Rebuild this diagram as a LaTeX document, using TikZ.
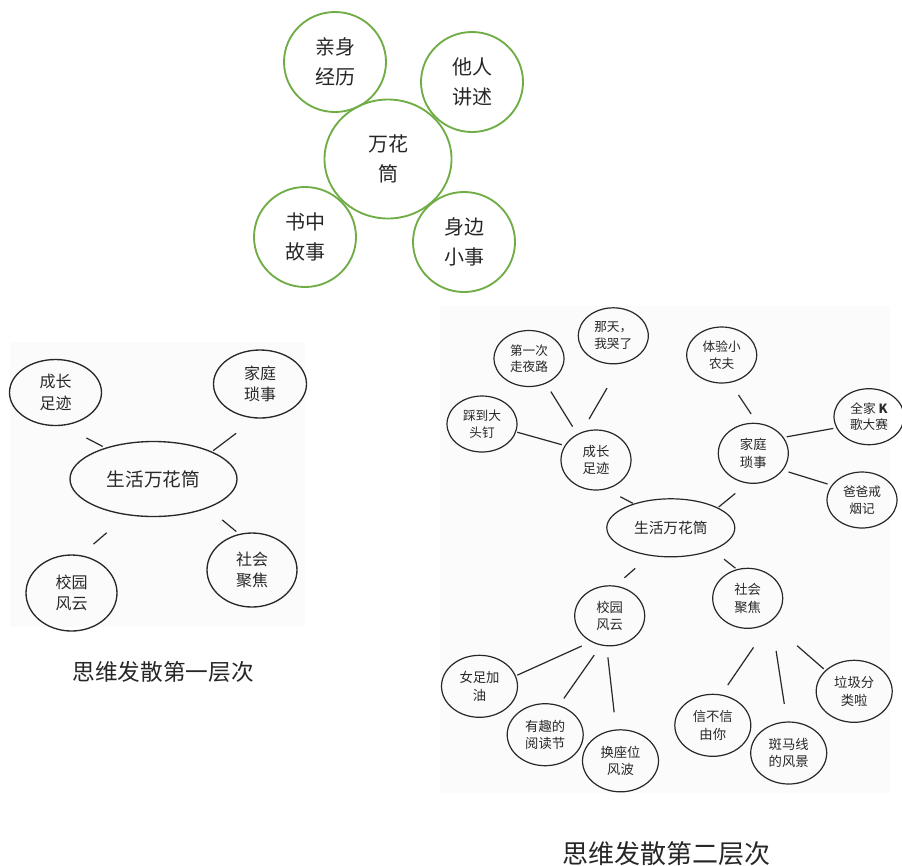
\documentclass[tikz,border=0pt]{standalone}
\usepackage{fontspec}
\setmainfont{Noto Sans CJK SC}
\usetikzlibrary{shapes.geometric}
\definecolor{leafgreen}{RGB}{112,173,71}
\definecolor{inkgray}{RGB}{40,40,40}
\definecolor{scanpaper}{RGB}{251,251,251}
\tikzset{
  petal/.style={ellipse, draw=leafgreen, line width=1.4pt, inner sep=0pt, outer sep=0pt,
    minimum width=76.5pt, minimum height=75pt, align=center, text=black!85,
    font=\fontsize{15}{22.5}\selectfont},
  hub/.style={ellipse, draw=inkgray, line width=1pt, inner sep=0pt, outer sep=0pt,
    minimum width=69pt, minimum height=51pt, align=center, text=inkgray,
    font=\fontsize{12}{16}\selectfont},
  hubcore/.style={hub, minimum width=125.25pt, minimum height=56.25pt,
    font=\fontsize{14}{16}\selectfont},
  twig/.style={ellipse, draw=inkgray, line width=0.9pt, inner sep=0pt, outer sep=0pt,
    minimum width=52.5pt, minimum height=42pt, align=center, text=inkgray,
    font=\fontsize{9.5}{12.5}\selectfont},
  twigB/.style={twig, minimum width=57pt, minimum height=46.5pt,
    font=\fontsize{10}{13}\selectfont},
  branch/.style={twig, minimum width=52.5pt, minimum height=45pt,
    font=\fontsize{10}{13}\selectfont},
  trunk/.style={twig, minimum width=96pt, minimum height=43.5pt,
    font=\fontsize{11}{13}\selectfont},
  link/.style={draw=inkgray, line width=0.9pt},
  caption/.style={inner sep=0pt, text=black!85}
}
\begin{document}
\begin{tikzpicture}[x=0.75pt,y=0.75pt,yscale=-1,xscale=1]
\useasboundingbox (0,0) rectangle (902,865);

%Shape: scanned paper
\fill[scanpaper] (10,342) rectangle (305,627);
\fill[scanpaper] (440,306) rectangle (890,793);

%Shape: green circles
\node[petal] (qinshen) at (335,62) {亲身\\经历};
\node[petal] (taren) at (472,82) {他人\\讲述};
\node[petal, minimum width=95.25pt, minimum height=89.25pt] (wanhua) at (388,159) {万花\\筒};
\node[petal] (shuzhong) at (305,237) {书中\\故事};
\node[petal] (shenbian) at (464,242) {身边\\小事};

%Shape: first level
\node[hubcore] (shenghuo) at (153.5,479) {生活万花筒};
\node[hub, minimum height=49.5pt] (chengzhang) at (55.5,392.5) {成长\\足迹};
\node[hub, minimum width=69.75pt] (jiating) at (260,384) {家庭\\琐事};
\node[hub, minimum width=68.25pt, minimum height=57pt] (xiaoyuan) at (71.5,593) {校园\\风云};
\node[hub, minimum width=67.5pt, minimum height=55.5pt] (shehui) at (252,570) {社会\\聚焦};

%Straight Lines
\draw[link, shorten <=2.8pt, shorten >=20.8pt] (shenghuo.147.8) -- (chengzhang.-79.4);
\draw[link, shorten <=1.6pt, shorten >=19.1pt] (shenghuo.25) -- (jiating.-96.2);
\draw[link, shorten <=20.8pt, shorten >=13.3pt] (shenghuo.-126.8) -- (xiaoyuan.77.8);
\draw[link, shorten <=14.4pt, shorten >=3.3pt] (shenghuo.-28.4) -- (shehui.109.5);

% Text Node
\node[caption, font=\fontsize{17}{20}\selectfont] (ceng1) at (163.3,672) {思维发散第一层次};

%Shape: second level
\node[trunk] (huatong) at (670.8,527.8) {生活万花筒};
\node[branch] (zuji) at (596,460) {成长\\足迹};
\node[branch] (suoshi) at (753.3,453.3) {家庭\\琐事};
\node[branch] (fengyun) at (609.7,615.8) {校园\\风云};
\node[branch] (jujiao) at (747.7,598.3) {社会\\聚焦};
\node[twig] (yelu) at (529,358.5) {第一次\\走夜路};
\node[twig] (kule) at (613.3,335.8) {那天，\\我哭了};
\node[twig] (toudin) at (482,424) {踩到大\\头钉};
\node[twig] (nongfu) at (721.7,355) {体验小\\农夫};
\node[twig] (kge) at (869,416.7) {全家 \textbf{K}\\歌大赛};
\node[twig] (jieyan) at (862,500) {爸爸戒\\烟记};
\node[twigB] (jiayou) at (479.5,686.3) {女足加\\油};
\node[twigB] (yuedu) at (545.2,734.7) {有趣的\\阅读节};
\node[twigB] (huanzuo) at (620.5,760.8) {换座位\\风波};
\node[twigB] (xinbuxin) at (712.8,725.3) {信不信\\由你};
\node[twigB] (banma) at (788.7,753) {斑马线\\的风景};
\node[twigB] (laji) at (854.2,691.3) {垃圾分\\类啦};

%Straight Lines
\draw[link, shorten <=1.2pt, shorten >=12.6pt] (huatong.147) -- (zuji.-72.6);
\draw[link, shorten <=1.2pt, shorten >=12.4pt] (huatong.23.5) -- (suoshi.-100.3);
\draw[link, shorten <=14.9pt, shorten >=9.5pt] (huatong.-127.3) -- (fengyun.80.4);
\draw[link, shorten <=11.2pt, shorten >=1.8pt] (huatong.-28.8) -- (jujiao.110.8);
\draw[link, shorten <=7pt, shorten >=7.5pt] (zuji.126.6) -- (yelu.-56.3);
\draw[link, shorten <=12pt, shorten >=21.8pt] (zuji.119) -- (kule.-73.9);
\draw[link, shorten <=2.6pt, shorten >=1.3pt] (zuji.155.6) -- (toudin.-13.1);
\draw[link, shorten <=8.6pt, shorten >=11.5pt] (suoshi.82.2) -- (nongfu.-73.4);
\draw[link, shorten <=2.8pt, shorten >=2.7pt] (suoshi.28.2) -- (kge.-161.1);
\draw[link, shorten <=4.9pt, shorten >=3.6pt] (suoshi.-30.7) -- (jieyan.154.6);
\draw[link, shorten <=8.2pt, shorten >=1.6pt] (fengyun.-125) -- (jiayou.16.2);
\draw[link, shorten <=9.3pt, shorten >=6.7pt] (fengyun.-106.3) -- (yuedu.65.9);
\draw[link, shorten <=8.8pt, shorten >=13.4pt] (fengyun.-96.3) -- (huanzuo.98.3);
\draw[link, shorten <=25.5pt, shorten >=9.1pt] (jujiao.-40) -- (xinbuxin.75);
\draw[link, shorten <=23.2pt, shorten >=13.7pt] (jujiao.-43) -- (banma.93.7);
\draw[link, shorten <=27.4pt, shorten >=2.1pt] (jujiao.-47.8) -- (laji.144.9);

% Text Node
\node[caption, font=\fontsize{19.5}{22}\selectfont] (ceng2) at (666,854) {思维发散第二层次};

\end{tikzpicture}
\end{document}
